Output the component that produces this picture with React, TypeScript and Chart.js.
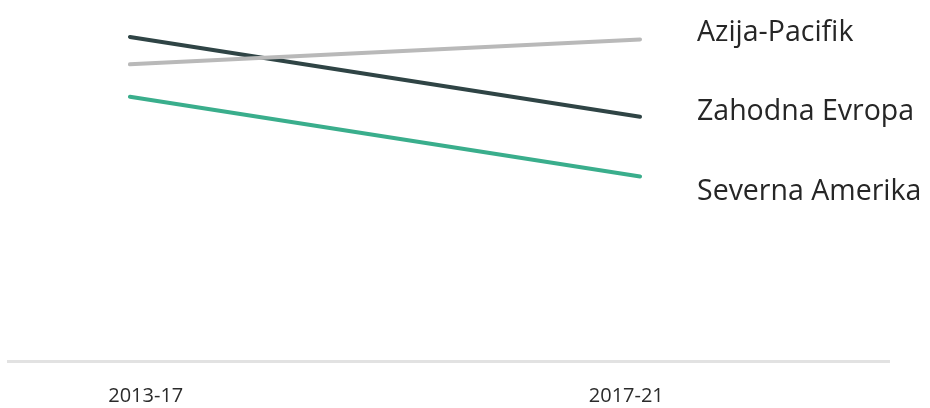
import React, { useEffect, useRef } from "react";
import { Chart, registerables } from "chart.js";

Chart.register(...registerables);

const categories = ["2013-17", "2017-21"];
const seriesNames = ["Azija-Pacifik", "Zahodna Evropa", "Severna Amerika"];
const azijaPacifik = [5.95, 6.45];
const zahodnaEvropa = [6.5, 4.9];
const severnaAmerika = [5.3, 3.7];
const tickPositions = [0.031, 0.973];

const colors = ["#b9b9b9", "#2f4445", "#3aae8c"];
const labelYs = [33, 112, 192];

const seriesLabelPlugin = {
  id: "seriesLabels",
  afterDraw(chart: any) {
    const ctx = chart.ctx;
    ctx.save();
    ctx.font = "28.5px 'Open Sans'";
    ctx.fillStyle = "#262626";
    ctx.textAlign = "left";
    ctx.textBaseline = "middle";
    seriesNames.forEach((n, i) => ctx.fillText(n, 697, labelYs[i]));
    ctx.restore();
  },
};

export default function App() {
  const ref = useRef<HTMLCanvasElement>(null);
  useEffect(() => {
    if (!ref.current) return;
    const series = [azijaPacifik, zahodnaEvropa, severnaAmerika];
    const chart = new Chart(ref.current, {
      type: "line",
      data: {
        datasets: series.map((vals, i) => ({
          label: seriesNames[i],
          data: vals.map((v, j) => ({ x: j, y: v })),
          borderColor: colors[i],
          borderWidth: 4,
          borderCapStyle: "round",
          pointRadius: 0,
          tension: 0,
          fill: false,
        })),
      },
      options: {
        animation: false,
        responsive: true,
        maintainAspectRatio: false,
        layout: { padding: { left: 8, right: 41, top: 12, bottom: -23 } },
        plugins: { legend: { display: false }, tooltip: { enabled: false } },
        scales: {
          x: {
            type: "linear",
            min: -0.239,
            max: 1.488,
            grid: { display: false, drawTicks: false },
            border: { display: true, color: "#e2e2e2", width: 3 },
            afterBuildTicks: (axis: any) => {
              axis.ticks = tickPositions.map((v) => ({ value: v }));
            },
            ticks: {
              autoSkip: false,
              maxRotation: 0,
              padding: 23,
              color: "#2b2b2b",
              font: { family: "'Open Sans'", size: 20 },
              callback: (_v: any, i: number) => categories[i],
            },
          },
          y: { display: false, min: 0, max: 7 },
        },
      },
      plugins: [seriesLabelPlugin],
    } as any);
    return () => chart.destroy();
  }, []);
  return (
    <div style={{ position: "absolute", left: 0, top: 0, width: 930, height: 408 }}>
      <canvas ref={ref} />
    </div>
  );
}
